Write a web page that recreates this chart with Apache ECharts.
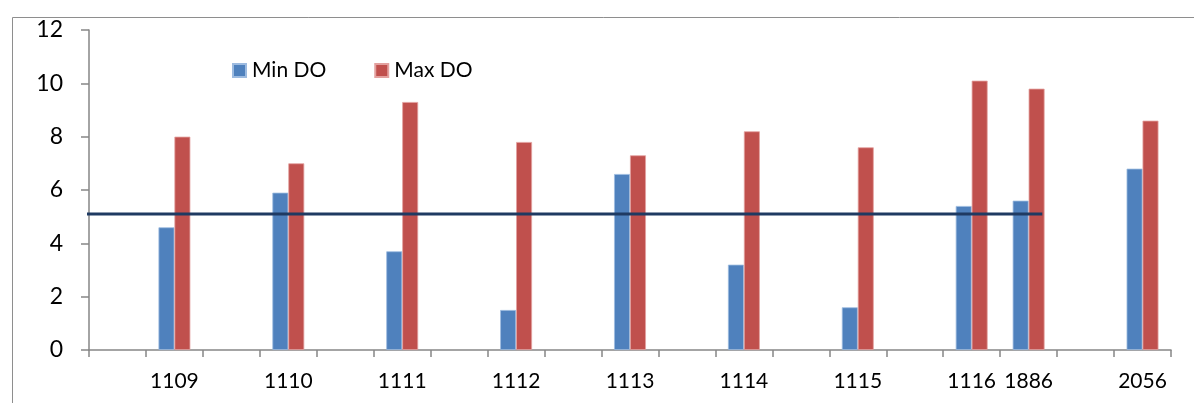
<!DOCTYPE html>
<html>
<head>
<meta charset="utf-8">
<script src="https://cdn.jsdelivr.net/npm/echarts@6/dist/echarts.min.js"></script>
<style>
  html, body { margin: 0; padding: 0; background: #ffffff; }
  #chart { width: 1194px; height: 403px; }
</style>
</head>
<body>
<div id="chart"></div>
<script>
// Station slots along the x axis; blank slots keep the spacing between stations
const categories = ['', '1109', '', '1110', '', '1111', '', '1112', '', '1113', '', '1114', '', '1115', '', '1116', '1886', '', '2056'];
// Dissolved oxygen readings (mg/L) per slot; null where no station sits
const minDO = [null, 4.6, null, 5.9, null, 3.7, null, 1.5, null, 6.6, null, 3.2, null, 1.6, null, 5.4, 5.6, null, 6.8];
const maxDO = [null, 8.0, null, 7.0, null, 9.3, null, 7.8, null, 7.3, null, 8.2, null, 7.6, null, 10.1, 9.8, null, 8.6];
// Reference DO level and the slot span it is drawn across
const refLevel = 5.1;
const refSpan = [-0.05, 16.74];
const yTicks = [0, 2, 4, 6, 8, 10, 12];

const font = 'Lato, "Open Sans", sans-serif';
const axisGray = '#868686';

const chart = echarts.init(document.getElementById('chart'), null, { renderer: 'canvas' });
chart.setOption({
  backgroundColor: '#ffffff',
  animation: false,
  textStyle: { fontFamily: font },
  graphic: [{
    type: 'rect',
    left: 10, top: 15,
    shape: { width: 1200, height: 400 },
    style: { fill: 'none', stroke: '#8e8e8e', lineWidth: 1 },
    silent: true
  }],
  legend: {
    data: ['Min DO', 'Max DO'],
    left: 232, top: 60,
    padding: 0,
    itemWidth: 13, itemHeight: 13, itemGap: 48,
    icon: 'rect',
    textStyle: { fontFamily: font, fontSize: 21, color: '#000000', padding: [0, 0, 0, 1] }
  },
  grid: { left: 89, right: 23, top: 30, bottom: 53 },
  xAxis: [{
    type: 'category',
    data: categories,
    boundaryGap: true,
    axisLine: { lineStyle: { color: axisGray, width: 1.5 } },
    axisTick: { show: true, length: 7, lineStyle: { color: axisGray, width: 1.5 } },
    axisLabel: { interval: 0, margin: 21, fontFamily: font, fontSize: 21, color: '#000000' },
    splitLine: { show: false }
  }, {
    type: 'value',
    min: 0, max: categories.length,
    show: false
  }],
  yAxis: {
    type: 'value',
    min: yTicks[0], max: yTicks[yTicks.length - 1], interval: 2,
    axisLine: { show: true, lineStyle: { color: axisGray, width: 1.5 } },
    axisTick: { show: true, length: 8, lineStyle: { color: axisGray, width: 1.5 } },
    axisLabel: { margin: 26, fontFamily: font, fontSize: 23, color: '#000000' },
    splitLine: { show: false }
  },
  series: [{
    name: 'Min DO',
    type: 'bar',
    data: minDO,
    barGap: '0%',
    barCategoryGap: '44%',
    itemStyle: { color: '#4F81BD', borderColor: '#9dbbe0', borderWidth: 0.8 }
  }, {
    name: 'Max DO',
    type: 'bar',
    data: maxDO,
    barGap: '0%',
    barCategoryGap: '44%',
    itemStyle: { color: '#C0504D', borderColor: '#e3a19f', borderWidth: 0.8 }
  }, {
    name: 'Reference',
    type: 'line',
    xAxisIndex: 1,
    data: refSpan.map(x => [x, refLevel]),
    symbol: 'none',
    clip: false,
    lineStyle: { color: '#1F3A62', width: 3 },
    z: 5
  }]
});
</script>
</body>
</html>
